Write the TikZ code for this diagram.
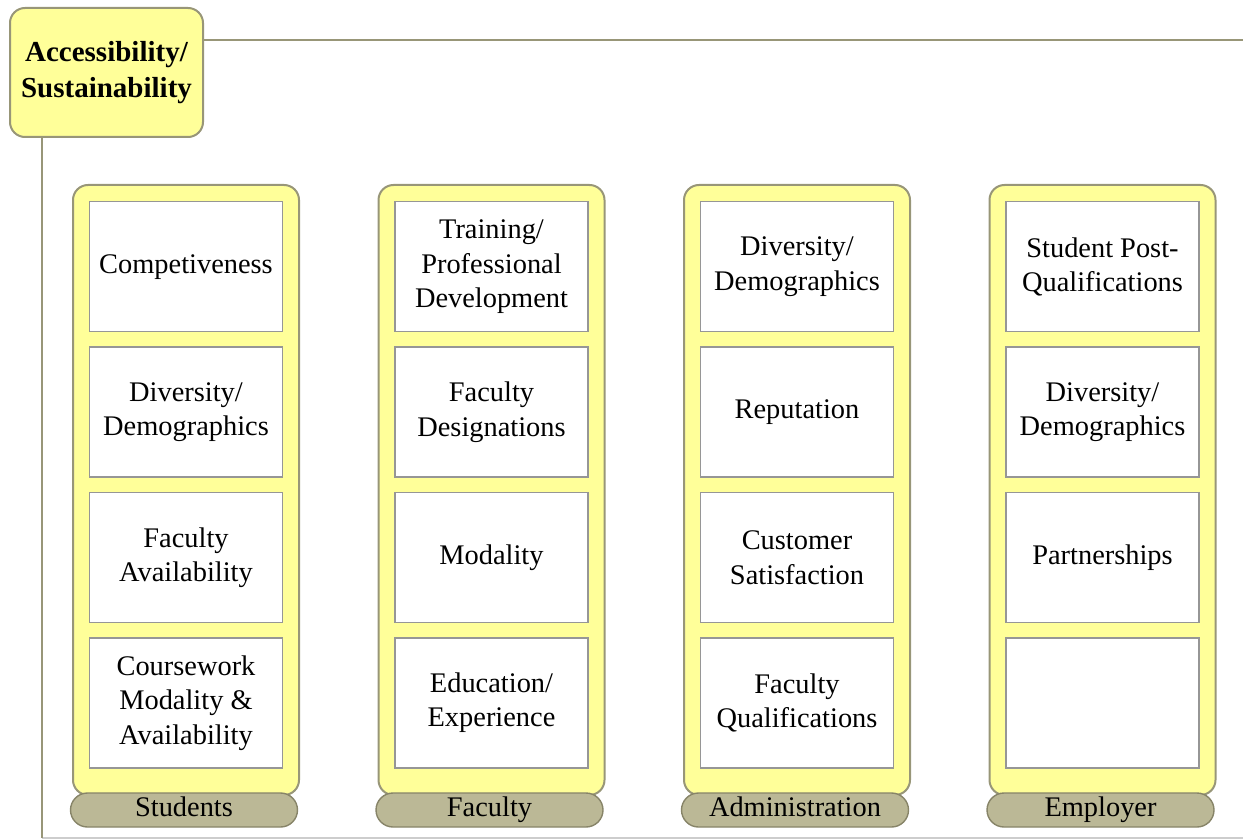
\documentclass[tikz,border=0pt]{standalone}
\usepackage{fontspec}
\setmainfont{Liberation Serif}
\usetikzlibrary{math}
\usetikzlibrary{calc}
\usetikzlibrary{positioning}

\definecolor{boxyellow}{RGB}{255,255,153}
\definecolor{boxedge}{RGB}{152,150,120}
\definecolor{tabfill}{RGB}{187,184,150}
\definecolor{tabedge}{RGB}{135,132,104}
\definecolor{celledge}{RGB}{150,150,150}
\definecolor{frameline}{RGB}{205,205,205}

\tikzset{
  titlebox/.style={draw=boxedge, fill=boxyellow, line width=1pt, rounded corners=7.5pt,
    minimum width=96.5pt, minimum height=64.5pt, align=center,
    font=\fontsize{14.5}{18}\selectfont\bfseries},
  column/.style={draw=boxedge, fill=boxyellow, line width=1pt, rounded corners=7.5pt,
    minimum width=113pt, minimum height=305pt},
  cell/.style={draw=celledge, fill=white, line width=0.7pt, inner sep=0pt,
    minimum width=96.5pt, minimum height=65pt, align=center,
    font=\fontsize{14.2}{17.25}\selectfont},
  tab/.style={draw=tabedge, fill=tabfill, line width=0.7pt, rounded corners=8.5pt,
    minimum width=113.5pt, minimum height=17pt, inner sep=0pt,
    text height=9.5pt, text depth=3pt,
    font=\fontsize{14.2}{17}\selectfont},
  link/.style={draw=boxedge, line width=1pt},
  frame/.style={draw=frameline, line width=1pt}
}

\begin{document}
\begin{tikzpicture}[x=0.5pt,y=-0.5pt]

  \tikzmath{
    \firstx  = 186;   % centre of the first column
    \colstep = 305.5; % distance between columns
    \coly    = 490;   % centre of the columns
    \taby    = 810;   % centre of the column tabs
  }

  \useasboundingbox (0,0) rectangle (1243,840);

  % header and frame lines
  \coordinate (topend) at (1243,40);
  \coordinate (corner) at (42,838);
  \coordinate (botend) at (1243,838);

  \draw[frame] (corner) -- (botend);
  \draw[link] (106.5,72.5) -| (corner);
  \node[titlebox] (title) at (106.5,72.5) {Accessibility/\\Sustainability};
  \draw[link] (title.east |- topend) -- (topend);

  % yellow columns with their tabs
  \foreach \c/\name/\lab in {0/students/Students,1/faculty/Faculty,2/admin/Administration,3/employer/Employer}{
    \node[column] (\name) at ({\firstx+\c*\colstep}, \coly) {};
    \node[tab] (\name-tab) at ({\firstx-2+\c*\colstep}, \taby) {\lab};
  }

  % Students
  \node[cell, below=8.5pt of students.north] (stud-1) {Competiveness};
  \node[cell, below=7pt of stud-1] (stud-2) {Diversity/\\Demographics};
  \node[cell, below=7pt of stud-2] (stud-3) {Faculty\\Availability};
  \node[cell, below=7pt of stud-3] (stud-4) {Coursework\\Modality \&\\Availability};

  % Faculty
  \node[cell, below=8.5pt of faculty.north] (fac-1) {Training/\\Professional\\Development};
  \node[cell, below=7pt of fac-1] (fac-2) {Faculty\\Designations};
  \node[cell, below=7pt of fac-2] (fac-3) {Modality};
  \node[cell, below=7pt of fac-3] (fac-4) {Education/\\Experience};

  % Administration
  \node[cell, below=8.5pt of admin.north] (adm-1) {Diversity/\\Demographics};
  \node[cell, below=7pt of adm-1] (adm-2) {Reputation};
  \node[cell, below=7pt of adm-2] (adm-3) {Customer\\Satisfaction};
  \node[cell, below=7pt of adm-3] (adm-4) {Faculty\\Qualifications};

  % Employer
  \node[cell, below=8.5pt of employer.north] (emp-1) {Student Post-\\Qualifications};
  \node[cell, below=7pt of emp-1] (emp-2) {Diversity/\\Demographics};
  \node[cell, below=7pt of emp-2] (emp-3) {Partnerships};
  \node[cell, below=7pt of emp-3] (emp-4) {};

\end{tikzpicture}
\end{document}
